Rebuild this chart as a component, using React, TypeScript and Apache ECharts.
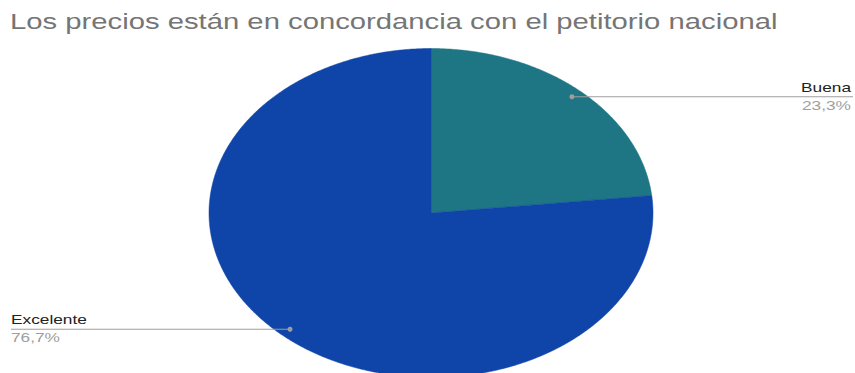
import React, { useEffect, useRef } from "react";
import * as echarts from "echarts";

const titleText = "Los precios están en concordancia con el petitorio nacional";
const categories = ["Buena", "Excelente"];
const values = [23.3, 76.7];
const sliceColors = ["#1e7684", "#0f45a8"];

const FONT = "'Liberation Sans', Arial, Helvetica, sans-serif";
const STRETCH = 1.33;

export default function App() {
  const ref = useRef<HTMLDivElement>(null);

  useEffect(() => {
    if (!ref.current) return;
    const chart = echarts.init(ref.current, undefined, { renderer: "svg" });
    const total = values.reduce((a, b) => a + b, 0);
    const cum: number[] = [];
    values.reduce((acc, v, i) => {
      cum[i] = acc;
      return acc + v;
    }, 0);

    const cx = 431;
    const cy = 213;
    const rx = 222;
    const ry = 164.5;

    const renderItem = (params: any, api: any) => {
      const i = params.dataIndex;
      const v = api.value(0) as number;
      const a0 = (cum[i] / total) * Math.PI * 2;
      const a1 = ((cum[i] + v) / total) * Math.PI * 2;
      const steps = Math.max(8, Math.ceil(((a1 - a0) * 180) / Math.PI) * 2);
      const pts: number[][] = [[cx, cy]];
      for (let k = 0; k <= steps; k++) {
        const t = a0 + ((a1 - a0) * k) / steps;
        pts.push([cx + rx * Math.sin(t), cy - ry * Math.cos(t)]);
      }
      const mid = (a0 + a1) / 2;
      const dx = cx + rx * 0.95 * Math.sin(mid);
      const dy = cy - ry * 0.95 * Math.cos(mid);
      const right = Math.sin(mid) >= 0;
      const lineEnd = right ? 853 : 11;
      const textX = right ? 851 : 11;
      const align = right ? "right" : "left";
      const pct = ((v / total) * 100).toFixed(1).replace(".", ",") + "%";
      return {
        type: "group",
        children: [
          {
            type: "polygon",
            shape: { points: pts },
            style: { fill: sliceColors[i], stroke: sliceColors[i], lineWidth: 0.5 },
          },
          {
            type: "line",
            shape: { x1: dx, y1: dy, x2: lineEnd, y2: dy },
            style: { stroke: "#9e9e9e", lineWidth: 1 },
            z2: 10,
          },
          {
            type: "circle",
            shape: { cx: dx, cy: dy, r: 2.5 },
            style: { fill: "#9e9e9e" },
            z2: 11,
          },
          {
            type: "text",
            x: textX,
            y: dy - 9.5,
            scaleX: STRETCH,
            style: {
              text: categories[i],
              fontSize: 13,
              fontFamily: FONT,
              fill: "#222222",
              align,
              verticalAlign: "middle",
            },
            z2: 12,
          },
          {
            type: "text",
            x: textX,
            y: dy + 8.5,
            scaleX: STRETCH,
            style: {
              text: pct,
              fontSize: 13,
              fontFamily: FONT,
              fill: "#9e9e9e",
              align,
              verticalAlign: "middle",
            },
            z2: 12,
          },
        ],
      };
    };

    chart.setOption({
      animation: false,
      backgroundColor: "#ffffff",
      graphic: [
        {
          type: "text",
          x: 10,
          y: 21.5,
          scaleX: STRETCH,
          style: {
            text: titleText,
            fontSize: 22,
            fontFamily: FONT,
            fill: "#757575",
            align: "left",
            verticalAlign: "middle",
          },
        },
      ],
      series: [
        {
          type: "custom",
          coordinateSystem: "none",
          renderItem,
          data: values.map((v, i) => ({ name: categories[i], value: [v] })),
        },
      ],
    });
    return () => chart.dispose();
  }, []);

  return (
    <div
      ref={ref}
      style={{ position: "absolute", left: 0, top: 0, width: 855, height: 373 }}
    />
  );
}
